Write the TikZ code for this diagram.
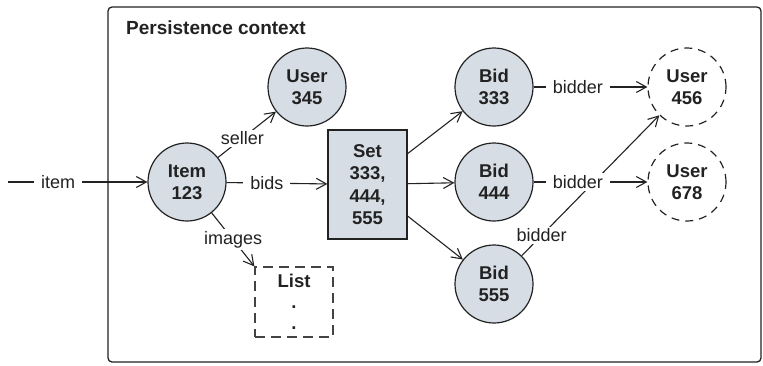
\documentclass[tikz,border=0pt]{standalone}
\usepackage{fontspec}
\setmainfont{Liberation Sans}
\usetikzlibrary{arrows.meta}
\definecolor{nodefill}{RGB}{214,221,229}
\definecolor{ink}{RGB}{34,34,34}
\begin{document}
\begin{tikzpicture}[x=1pt,y=-1pt,
  every node/.style={font=\fontsize{18}{22}\selectfont, text=ink},
  obj/.style={circle, draw=ink, line width=1.2pt, fill=nodefill, minimum size=78pt, inner sep=0pt, align=center, font=\fontsize{18.5}{22}\selectfont\bfseries},
  ghost/.style={circle, draw=ink, line width=1.2pt, dash pattern=on 8pt off 6pt, minimum size=78pt, inner sep=0pt, align=center, font=\fontsize{18.5}{22}\selectfont\bfseries},
  setbox/.style={rectangle, draw=ink, line width=1.2pt, fill=nodefill, minimum width=79pt, minimum height=109pt, inner sep=0pt, align=center, font=\fontsize{18.5}{22.5}\selectfont\bfseries},
  listbox/.style={rectangle, draw=ink!85, line width=1.2pt, dash pattern=on 10pt off 6pt, minimum width=78pt, minimum height=70pt, inner sep=0pt, align=center, font=\fontsize{18.5}{21}\selectfont\bfseries},
  conn/.style={draw=ink, line width=1.1pt, -{Straight Barb[length=10pt,width=11pt,line width=1.1pt]}},
  lbl/.style={fill=white, inner xsep=7pt, inner ysep=2pt}]
\useasboundingbox (0,0) rectangle (763,365);
\draw[ink, line width=1.3pt, rounded corners=4pt] (108,7) rectangle (761,362);
\node[anchor=west, inner sep=0pt, font=\fontsize{19}{22}\selectfont\bfseries] (title) at (126,28) {Persistence context};

\node[obj] (item) at (187,182) {Item\\123};
\node[obj] (u345) at (307,87) {User\\345};
\node[setbox] (set) at (367.5,184.5) {Set\\333,\\444,\\555};
\node[obj] (b333) at (494,87) {Bid\\333};
\node[obj] (b444) at (494,182) {Bid\\444};
\node[obj] (b555) at (494,284) {Bid\\555};
\node[ghost] (u456) at (687,87) {User\\456};
\node[ghost] (u678) at (687,182) {User\\678};
\node[listbox] (list) at (294,302) {List\\.\\.};

\coordinate (start) at (8,182);
\draw[conn] (start) -- node[lbl, pos=0.36]{item} (item);
\draw[conn] (item) -- node[lbl, pos=0.4]{bids} (set);
\draw[conn] (item) -- node[lbl, pos=0.42]{seller} (u345);
\draw[conn] (item) -- node[lbl, pos=0.5]{images} (list.north west);
\draw[conn] (set) -- (b333);
\draw[conn] (set) -- (b444);
\draw[conn] (set) -- (b555);
\draw[conn] (b555) -- node[lbl, pos=0.145]{bidder} (u456);
\draw[conn] (b333) -- node[lbl, pos=0.39]{bidder} (u456);
\draw[conn] (b444) -- node[lbl, pos=0.39]{bidder} (u678);
\end{tikzpicture}
\end{document}
